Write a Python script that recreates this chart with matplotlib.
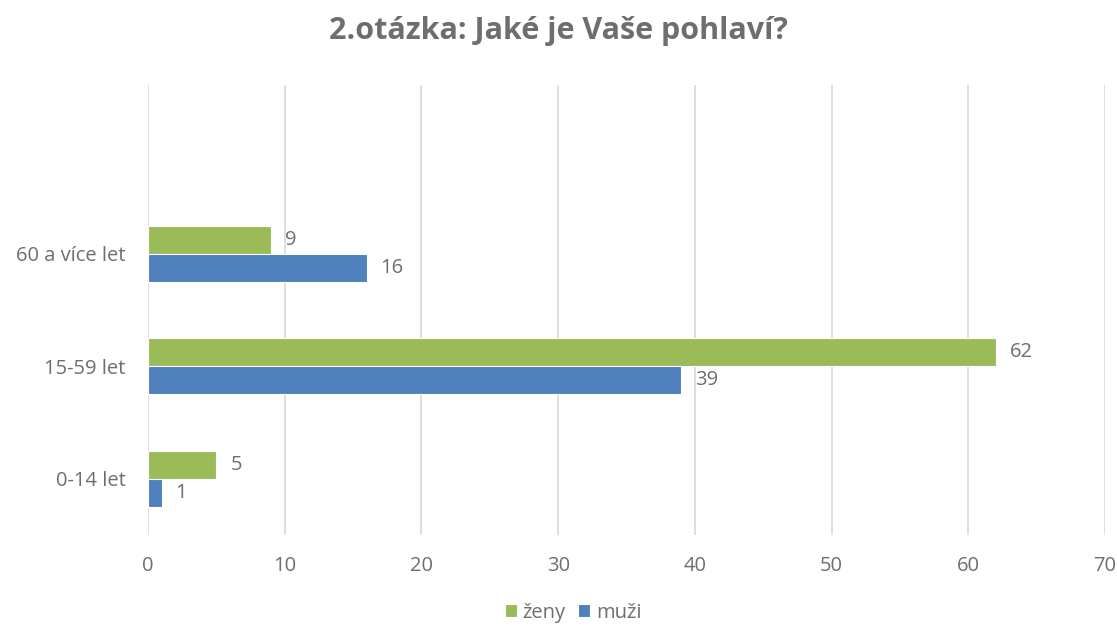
import numpy as np
import matplotlib.pyplot as plt

plt.rcParams['font.family'] = ['Open Sans', 'DejaVu Sans']

# data
categories = ['0-14 let', '15-59 let', '60 a více let']
zeny = [5, 62, 9]
muzi = [1, 39, 16]

title = '2.otázka: Jaké je Vaše pohlaví?'
text_color = '#6E6E6E'
green = '#9BBB59'
blue = '#4F81BD'
fs = 14.5

fig = plt.figure(figsize=(11.17, 6.29), dpi=100)
ax = fig.add_axes([0.1325, 0.1494, 0.8568, 0.7155])

y = np.arange(len(categories))
h = 0.25
b1 = ax.barh(y + h / 2, zeny, height=h, color=green, edgecolor='white', linewidth=0.8, label='ženy', zorder=3)
b2 = ax.barh(y - h / 2, muzi, height=h, color=blue, edgecolor='white', linewidth=0.8, label='muži', zorder=3)

ax.bar_label(b1, padding=10, fontsize=fs, color=text_color)
ax.bar_label(b2, padding=10, fontsize=fs, color=text_color)

ax.set_xlim(0, 70)
ax.set_ylim(-0.5, 3.5)
ax.set_xticks(np.arange(0, 71, 10))
ax.set_yticks(y)
ax.set_yticklabels(categories)
ax.tick_params(axis='both', length=0, labelsize=fs, labelcolor=text_color)
ax.tick_params(axis='x', pad=15)
ax.tick_params(axis='y', pad=16)

ax.grid(axis='x', color='#D9D9D9', linewidth=1.2, zorder=0)
for s in ax.spines.values():
    s.set_visible(False)

fig.suptitle(title, fontsize=22, fontweight='bold', color=text_color, y=0.975)

handles = [b1, b2]
fig.legend(handles, ['ženy', 'muži'], loc='center', bbox_to_anchor=(0.513, 0.026),
           ncol=2, frameon=False, fontsize=fs, labelcolor=text_color,
           handlelength=0.6, handleheight=0.6, handletextpad=0.3, columnspacing=0.6)

fig.savefig('out.png', dpi=100)
